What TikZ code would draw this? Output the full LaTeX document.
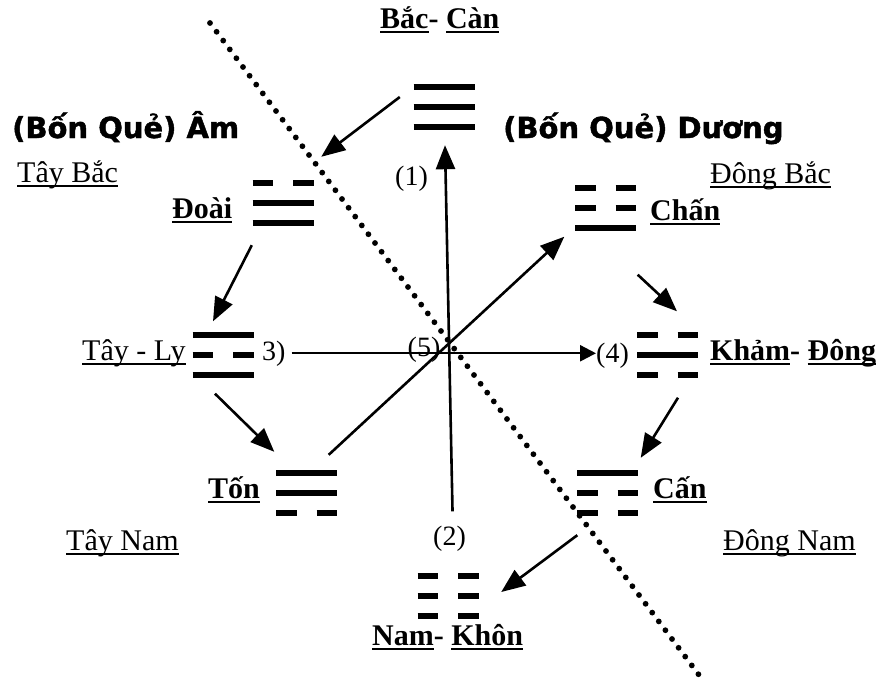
\documentclass[tikz,border=0pt]{standalone}
\usepackage{fontspec}
\setmainfont{Liberation Serif}
\newfontfamily\headfont[FakeBold=1.5]{DejaVu Sans}
\usetikzlibrary{arrows.meta,calc}
\newcommand\myul[1]{\setbox0\hbox{#1}\rlap{\rule[-5pt]{\wd0}{2.2pt}}\box0}
\newcommand\solidline[2]{\draw[tline] (#1-30.5,#2) -- (#1+30.5,#2);}
\newcommand\brokenline[2]{\draw[tline] (#1-30.5,#2) -- (#1-10,#2); \draw[tline] (#1+10,#2) -- (#1+30.5,#2);}
\newcommand\trig[6]{%
  \node[trigbox] (#1) at (#2,#3) {};
  #4{#2}{#3-20}
  #5{#2}{#3}
  #6{#2}{#3+20}
}
\begin{document}
\begin{tikzpicture}[x=1pt,y=-1pt,
  tline/.style={line width=6pt},
  trigbox/.style={minimum width=62pt,minimum height=46pt,inner sep=0pt,draw=none},
  arr/.style={line width=2.6pt,-{Triangle[length=24pt,width=19pt]}},
  arrs/.style={line width=2.4pt,-{Triangle[length=16pt,width=16pt]}},
  dots/.style={line width=5.8pt,line cap=round,dash pattern=on 0pt off 11pt},
  bl/.style={anchor=base west,inner sep=0pt,font=\fontsize{30}{32}\selectfont\bfseries},
  rl/.style={anchor=base west,inner sep=0pt,font=\fontsize{30}{32}\selectfont},
  num/.style={anchor=base west,inner sep=0pt,font=\fontsize{28}{30}\selectfont},
  head/.style={anchor=base west,inner sep=0pt,font=\headfont\fontsize{29}{31}\selectfont\bfseries}]
\useasboundingbox (0,0) rectangle (885,683);
% dotted divider
\coordinate (d1) at (210,23);
\coordinate (d2) at (705,683);
\draw[dots] (d1) -- (d2);
% trigrams
\trig{can}{444}{107}{\solidline}{\solidline}{\solidline}
\trig{doai}{283}{203}{\brokenline}{\solidline}{\solidline}
\trig{chan}{605.5}{207.5}{\brokenline}{\brokenline}{\solidline}
\trig{ly}{223}{354.5}{\solidline}{\brokenline}{\solidline}
\trig{kham}{667.5}{354.5}{\brokenline}{\solidline}{\brokenline}
\trig{ton}{306.5}{493}{\solidline}{\solidline}{\brokenline}
\trig{cann}{607.5}{493}{\solidline}{\brokenline}{\brokenline}
\trig{khon}{448}{595.5}{\brokenline}{\brokenline}{\brokenline}
% labels
\node[bl] (lcan) at (380,28) {\myul{Bắc}- \myul{Càn}};
\node[head] (ham) at (12,138) {(Bốn Quẻ) Âm};
\node[head] (hduong) at (503,138) {(Bốn Quẻ) Dương};
\node[rl] (ltb) at (17,182) {\myul{Tây Bắc}};
\node[rl] (ldb) at (710,183) {\myul{Đông Bắc}};
\node[bl] (ldoai) at (172,218) {\myul{Đoài}};
\node[bl] (lchan) at (650,220) {\myul{Chấn}};
\node[rl] (lly) at (82,360) {\myul{Tây - Ly}};
\node[bl] (lkham) at (710,360) {\myul{Khảm}- \myul{Đông}};
\node[bl] (lton) at (208,498) {\myul{Tốn}};
\node[bl] (lcann) at (653,498) {\myul{Cấn}};
\node[rl] (ltn) at (66,550) {\myul{Tây Nam}};
\node[rl] (ldn) at (723,550) {\myul{Đông Nam}};
\node[bl] (lkhon) at (372,645) {\myul{Nam}- \myul{Khôn}};
% numbers
\node[num] (n1) at (395,185) {(1)};
\node[num] (n2) at (433,545) {(2)};
\node[num] (n3) at (262,360) {3)};
\node[num] (n4) at (596,362) {(4)};
\node[num,anchor=center] (n5) at (424,350) {(5)};
% main arrows
\draw[arr] ([shift={(3,-14)}]n2.north) -- ([shift={(1,15)}]can.south);
\draw[arrs] ([xshift=6pt]n3.east) -- (n4.west |- n3.east);
\draw[arr] ([shift={(-9,-15)}]ton.north east) -- ([shift={(-10,6)}]chan.south west);
% cycle arrows
\draw[arr] ([shift={(-13,-10)}]can.west) -- ([shift={(7,-23)}]doai.north east);
\draw[arr] ([shift={(0,19)}]doai.south west) -- ([shift={(-10,-10)}]ly.north);
\draw[arr] ([shift={(-8,16)}]ly.south) -- ([shift={(-1,-18)}]ton.north west);
\draw[arr] ([shift={(1,44)}]chan.south east) -- ([shift={(9.5,-20)}]kham.north);
\draw[arr] ([shift={(10.5,20)}]kham.south) -- ([shift={(2,-12)}]cann.north east);
\draw[arr] ([shift={(1,19)}]cann.south west) -- ([shift={(22,-3.5)}]khon.east);
\end{tikzpicture}
\end{document}
